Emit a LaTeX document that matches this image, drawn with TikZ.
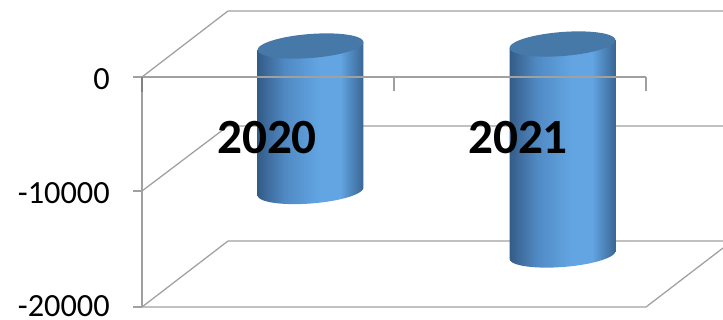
\documentclass[tikz,border=0pt]{standalone}
\usepackage{fontspec}
\setmainfont{Carlito}
\usetikzlibrary{positioning,calc}

\definecolor{grid-gray}{RGB}{160,160,160}
\definecolor{tick-gray}{RGB}{130,130,130}
\definecolor{cyl-dark}{RGB}{52,92,136}
\definecolor{cyl-mid}{RGB}{80,138,196}
\definecolor{cyl-light}{RGB}{98,165,226}
\definecolor{cyl-edge}{RGB}{58,102,148}
\definecolor{cyl-top}{RGB}{70,120,168}

\pgfdeclarehorizontalshading{cylbody}{100bp}{color(0bp)=(cyl-dark); color(25bp)=(cyl-dark);
  color(38bp)=(cyl-mid); color(54bp)=(cyl-light); color(64bp)=(cyl-light); color(75bp)=(cyl-edge); color(100bp)=(cyl-edge)}

\begin{document}
\begin{tikzpicture}[
  x=0.025cm, y=-0.025cm,
  grid/.style={draw=grid-gray, line width=0.9pt},
  axistick/.style={draw=tick-gray, line width=1.2pt},
  axis-label/.style={anchor=east, inner sep=0pt, font=\fontsize{23}{23}\selectfont},
  year-label/.style={inner sep=0pt, font=\fontsize{35}{35}\selectfont\bfseries}
]
  \useasboundingbox (0,0) rectangle (723,320);

  % walls and floor
  \draw[grid] (142,77) -- (228,11) -- (723,11);
  \draw[grid] (142,191) -- (228,126) -- (723,126);
  \draw[grid] (142,307) -- (228,241) -- (723,241);
  \draw[grid] (142,307) -- (646,307) -- (723,248);

  % value axis
  \draw[grid] (142,77) -- (142,307);
  \draw[grid] (133,77) -- (142,77);
  \draw[grid] (133,191) -- (142,191);
  \draw[grid] (133,307) -- (142,307);

  \node (label-0) [axis-label] at (110,79) {0};
  \node (label-10000) [axis-label] at (110,193) {-10000};
  \node (label-20000) [axis-label] at (110,306.5) {-20000};

  % cylinders
  \foreach \cx/\ty/\by in {310.5/46/191.5, 562.5/44/255} {
    \shade[shading=cylbody] (\cx+52.84,\ty-4.07) -- plot[domain=0:180, samples=40]
      ({\cx+52.84*cos(\x)+0.92*sin(\x)}, {\by-4.07*cos(\x)+11.96*sin(\x)}) -- (\cx-52.84,\ty+4.07) -- cycle;
    \fill[cyl-top] plot[domain=0:360, samples=72]
      ({\cx+52.84*cos(\x)+0.92*sin(\x)}, {\ty-4.07*cos(\x)+11.96*sin(\x)}) -- cycle;
  }

  % category axis in front
  \draw[grid] (133,77) -- (646,77);
  \draw[axistick] (142,77) -- (142,92);
  \draw[grid] (394,77) -- (394,91);
  \draw[grid] (646,77) -- (646,91);

  \node (year-2020) [year-label] at (267,138) {2020};
  \node (year-2021) [year-label] at (518,138) {2021};
\end{tikzpicture}
\end{document}
